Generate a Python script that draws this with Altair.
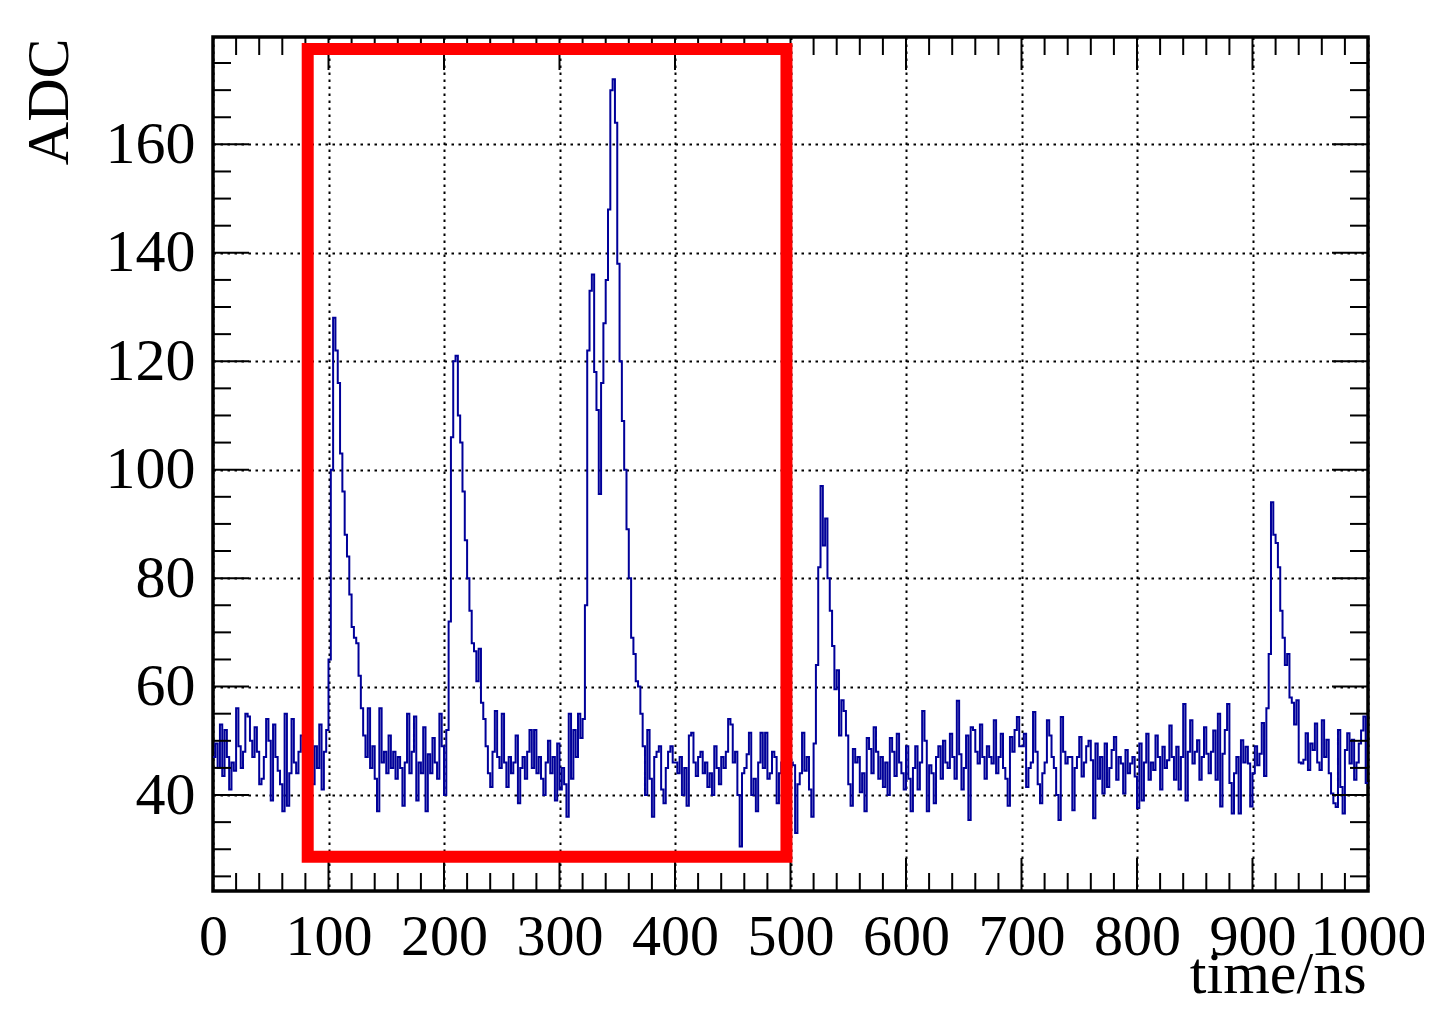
import altair as alt
import pandas as pd

# ---------------- data (ADC samples, 2 ns bins) ----------------
adc_000 = [47, 49.5, 45, 53, 43.5, 52, 47, 41, 46, 44.5,
           56, 49, 45, 48, 55, 54.5, 50, 47, 52.5, 48,
           42, 43, 47, 54, 50, 39, 53, 47, 44.5, 42,
           37, 55, 38, 44, 54, 46, 44, 48, 51, 46,
           47, 44, 50, 42, 49, 45, 53, 41, 48, 52]
adc_100 = [65, 100, 128, 122, 116, 103, 96, 88, 84, 77,
           71, 69, 68, 62, 56, 51, 47, 56, 45, 49,
           43, 37, 56, 46, 48, 44, 51, 45, 48, 43,
           47, 45, 38, 46, 55, 44, 48, 54.5, 39, 46,
           44, 52.5, 37, 47.5, 44, 50.5, 46, 43, 55, 49]
adc_200 = [40, 52, 72, 106, 120, 121, 110, 105, 96, 87,
           80, 74, 68, 66.5, 61, 67, 57, 54, 49, 44,
           41.5, 48, 55.5, 47, 45, 55, 46, 41.5, 47, 44,
           46, 51, 38.5, 45, 47, 43, 48, 52, 45, 52,
           44, 47, 43, 40, 46, 50, 44, 47, 39, 49.5]
adc_300 = [41, 45, 42, 36, 55, 43, 52, 47, 55, 50.5,
           54, 75, 122, 133, 136, 118, 111, 95.5, 116, 127,
           135, 148, 170, 172, 164, 138, 120, 109, 100, 89,
           80, 69, 66, 61, 60, 55, 49, 40, 52, 43,
           36, 47, 48, 49, 41, 38.5, 45, 48, 49, 46]
adc_400 = [46, 44, 47, 40, 45, 38, 51, 51.5, 46, 43.5,
           47, 48, 44, 46, 41.5, 44, 40, 49, 45, 42,
           47, 45, 48, 54, 53, 46, 48, 40, 30.5, 44,
           45, 47.5, 51.5, 40, 43, 37, 46, 51.5, 45, 51.5,
           43, 44, 48, 47, 38.5, 44, 46, 41, 43.5, 47]
adc_500 = [46, 45.5, 33, 42, 44, 51.5, 44.5, 47, 41, 36,
           49.5, 64, 82, 97, 86, 91, 80, 74, 67.5, 59.5,
           63, 51, 57.5, 55.5, 51, 42, 38, 48.5, 46, 47,
           40.5, 44, 37, 50.5, 48.5, 44, 52.5, 48, 43, 47,
           41.5, 46, 40, 50.5, 48, 43.5, 51.3, 46, 44, 41]
adc_600 = [49, 43, 37, 45, 49, 41, 46, 55.5, 50, 37,
           45.5, 44, 38.5, 47, 49, 43, 50, 46, 45, 51.3,
           47, 43, 57.4, 47.5, 41, 45, 51, 35.4, 52.5, 52,
           48, 45.8, 53, 47, 43, 49, 47, 45.8, 53.8, 44,
           47, 51.3, 45, 43, 38, 50.7, 48, 52, 54.4, 49]
adc_700 = [49, 51.3, 41.5, 45, 46, 55.3, 48, 42, 38.5, 44,
           46, 53.8, 51, 47, 45, 40, 35.4, 54.4, 48, 45.8,
           47, 47, 37.2, 45, 47, 50.7, 43.4, 46, 49, 50,
           46.4, 35.7, 49.5, 43, 47, 40.3, 49.5, 41.5, 45, 48.3,
           50.7, 42.8, 47, 45.8, 40.3, 48.3, 44, 45.8, 47, 43.4]
adc_800 = [37.6, 49.5, 39, 46, 51.3, 42.8, 46, 44.6, 51, 47,
           41, 48.9, 45, 46.4, 52.8, 47, 42.8, 48.9, 41, 47,
           56.8, 39, 48, 53.8, 45.8, 48, 50.1, 42.8, 47, 52.5,
           47.6, 44, 48, 51.9, 42.8, 55, 37.9, 47.6, 52, 56.8,
           42.2, 36.6, 44, 47, 36.6, 50.1, 46, 48.9, 45.8, 37.9]
adc_900 = [44, 49, 45.5, 47.6, 53.3, 43.5, 56, 66, 94, 88,
           86.5, 82, 74, 69, 64, 66, 58, 57, 53, 57.5,
           46, 45.8, 46.5, 51.4, 44.6, 49.5, 48.3, 53.2, 46, 44.6,
           53.8, 47, 50.2, 44, 40.3, 38.5, 37.8, 52, 41.5, 36.6,
           48.3, 51.4, 45.8, 50.2, 42.8, 46, 49.5, 51.9, 54.5, 42.2]

bin_width_ns = 2
x_major = [0, 100, 200, 300, 400, 500, 600, 700, 800, 900, 1000]
x_minor = [20, 40, 60, 80, 120, 140, 160, 180, 220, 240, 260, 280,
           320, 340, 360, 380, 420, 440, 460, 480, 520, 540, 560, 580,
           620, 640, 660, 680, 720, 740, 760, 780, 820, 840, 860, 880,
           920, 940, 960, 980]
y_major = [40, 60, 80, 100, 120, 140, 160]
y_minor = [25, 30, 35, 45, 50, 55, 65, 70, 75, 85, 90, 95, 105, 110, 115,
           125, 130, 135, 145, 150, 155, 165, 170, 175]
x_domain = [0, 1000]
y_domain = [22.3, 179.8]
box_time = [82, 496.5]
box_adc = [28.6, 177.6]

# ---------------- build tables ----------------
adc = (adc_000 + adc_100 + adc_200 + adc_300 + adc_400 +
       adc_500 + adc_600 + adc_700 + adc_800 + adc_900)
t = [i * bin_width_ns for i in range(len(adc))]
# closing edge of the last bin
t.append(len(adc) * bin_width_ns)
adc_closed = adc + [adc[-1]]
wave = pd.DataFrame({"t": t, "adc": adc_closed})

W, H = 1155, 854
FONT = "Liberation Serif"
FS = 58

xs = alt.Scale(domain=x_domain, nice=False, zero=False)
ys = alt.Scale(domain=y_domain, nice=False, zero=False)

xaxis = alt.Axis(values=x_major, format="d", grid=True, gridDash=[2.5, 4.5],
                 gridColor="#000000", gridWidth=2, gridOpacity=1,
                 ticks=False, tickSize=0, domain=False,
                 labelFont=FONT, labelFontSize=FS, labelColor="black",
                 labelPadding=17, labelFlush=False, labelOverlap=False,
                 title="time/ns", titleFont=FONT, titleFontSize=60,
                 titleFontWeight="normal", titleColor="black",
                 titleAlign="right", titleBaseline="alphabetic",
                 titleX=W - 2, titleY=101)
yaxis = alt.Axis(values=y_major, format="d", grid=True, gridDash=[2.5, 4.5],
                 gridColor="#000000", gridWidth=2, gridOpacity=1,
                 ticks=False, tickSize=0, domain=False,
                 labelFont=FONT, labelFontSize=60, labelColor="black",
                 labelPadding=18, labelFlush=False, labelOverlap=False,
                 labelBaseline="middle",
                 title="ADC", titleFont=FONT, titleFontSize=60,
                 titleFontWeight="normal", titleColor="black",
                 titleAngle=270, titleAlign="right", titleBaseline="alphabetic",
                 titleX=-146, titleY=1)

line = alt.Chart(wave).mark_line(
    interpolate="step-after", color="#000099", strokeWidth=2, clip=True
).encode(
    x=alt.X("t:Q", scale=xs, axis=xaxis),
    y=alt.Y("adc:Q", scale=ys, axis=yaxis),
)


def yticks(vals, length):
    d = pd.DataFrame({"v": vals})
    base = alt.Chart(d).mark_rule(color="black", strokeWidth=2)
    left = base.encode(y=alt.Y("v:Q", scale=ys, axis=yaxis),
                       x=alt.value(0), x2=alt.value(length))
    right = base.encode(y=alt.Y("v:Q", scale=ys, axis=yaxis),
                        x=alt.value(W - length), x2=alt.value(W))
    return [left, right]


def xticks(vals, length):
    d = pd.DataFrame({"v": vals})
    base = alt.Chart(d).mark_rule(color="black", strokeWidth=2)
    top = base.encode(x=alt.X("v:Q", scale=xs, axis=xaxis),
                      y=alt.value(0), y2=alt.value(length))
    bottom = base.encode(x=alt.X("v:Q", scale=xs, axis=xaxis),
                         y=alt.value(H - length), y2=alt.value(H))
    return [top, bottom]


ticks = (yticks(y_major, 36) + yticks(y_minor, 18) +
         xticks(x_major, 33) + xticks(x_minor, 18))

box_df = pd.DataFrame({"x0": [box_time[0]], "x1": [box_time[1]],
                       "y0": [box_adc[0]], "y1": [box_adc[1]]})
box = alt.Chart(box_df).mark_rect(
    fill="transparent", stroke="#ff0000", strokeWidth=12
).encode(
    x=alt.X("x0:Q", scale=xs, axis=xaxis), x2="x1:Q",
    y=alt.Y("y0:Q", scale=ys, axis=yaxis), y2="y1:Q",
)

chart = alt.layer(line, *ticks, box).properties(
    width=W, height=H,
    autosize=alt.AutoSizeParams(type="none"),
    padding={"left": 205, "top": 29, "right": 56, "bottom": 114},
    background="white",
).configure_view(stroke="black", strokeWidth=3.5)

chart.save("out.html", embed_options={"renderer": "svg", "actions": False})
